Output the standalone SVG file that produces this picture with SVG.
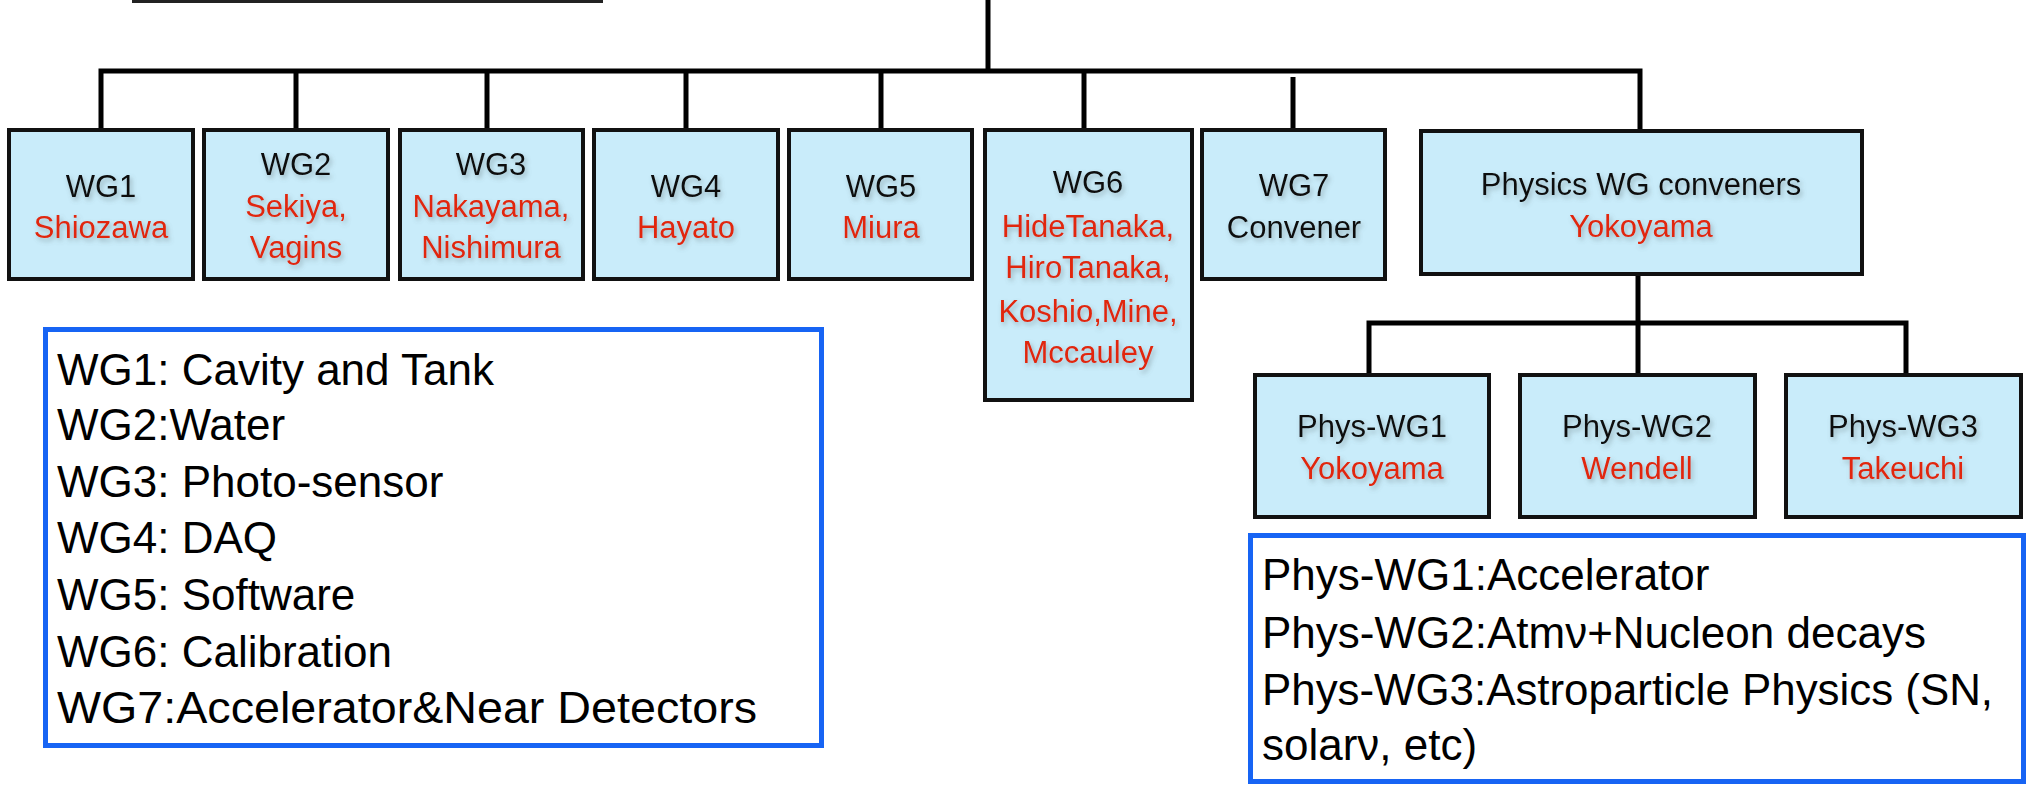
<svg xmlns="http://www.w3.org/2000/svg" width="2031" height="786" viewBox="0 0 2031 786">
<defs>
<filter id="ts" x="-10%" y="-30%" width="120%" height="160%">
<feDropShadow dx="2" dy="3" stdDeviation="2.5" flood-color="#5a6a70" flood-opacity="0.45"/>
</filter>
<style>
.box{fill:#c9ecfa;stroke:#111;stroke-width:4}
.leg{fill:#fff;stroke:#1764f4;stroke-width:5}
.ln{stroke:#000;stroke-width:5;fill:none}
.t{font-family:"Liberation Sans",Arial,sans-serif;font-size:31px;text-anchor:middle;filter:url(#ts)}
.k{fill:#111}
.r{fill:#e1280c}
.lt{font-family:"Liberation Sans",Arial,sans-serif;font-size:44px;fill:#000}
</style>
</defs>
<rect width="2031" height="786" fill="#fff"/>
<line x1="132" y1="1.5" x2="603" y2="1.5" stroke="#222" stroke-width="3"/>

<g id="connectors">
<line class="ln" x1="988" y1="0" x2="988" y2="71"/>
<polyline class="ln" points="101,129 101,71 1640,71 1640,130"/>
<line class="ln" x1="296" y1="71" x2="296" y2="129"/>
<line class="ln" x1="487" y1="71" x2="487" y2="129"/>
<line class="ln" x1="686" y1="71" x2="686" y2="129"/>
<line class="ln" x1="881" y1="71" x2="881" y2="129"/>
<line class="ln" x1="1084" y1="71" x2="1084" y2="129"/>
<line class="ln" x1="1293" y1="77" x2="1293" y2="131"/>
<line class="ln" x1="1638" y1="275" x2="1638" y2="374"/>
<polyline class="ln" points="1369,375 1369,323 1906,323 1906,375"/>
</g>

<g id="wg1"><rect class="box" x="9" y="130" width="184" height="149"/>
<text class="t k" x="101" y="197">WG1</text><text class="t r" x="101" y="238">Shiozawa</text></g>
<g id="wg2"><rect class="box" x="204" y="130" width="184" height="149"/>
<text class="t k" x="296" y="175">WG2</text><text class="t r" x="296" y="217">Sekiya,</text><text class="t r" x="296" y="258">Vagins</text></g>
<g id="wg3"><rect class="box" x="400" y="130" width="183" height="149"/>
<text class="t k" x="491" y="175">WG3</text><text class="t r" x="491" y="217">Nakayama,</text><text class="t r" x="491" y="258">Nishimura</text></g>
<g id="wg4"><rect class="box" x="594" y="130" width="184" height="149"/>
<text class="t k" x="686" y="197">WG4</text><text class="t r" x="686" y="238">Hayato</text></g>
<g id="wg5"><rect class="box" x="789" y="130" width="183" height="149"/>
<text class="t k" x="881" y="197">WG5</text><text class="t r" x="881" y="238">Miura</text></g>
<g id="wg6"><rect class="box" x="985" y="130" width="207" height="270"/>
<text class="t k" x="1088" y="193">WG6</text><text class="t r" x="1088" y="237">HideTanaka,</text><text class="t r" x="1088" y="278">HiroTanaka,</text><text class="t r" x="1088" y="322">Koshio,Mine,</text><text class="t r" x="1088" y="363">Mccauley</text></g>
<g id="wg7"><rect class="box" x="1202" y="130" width="183" height="149"/>
<text class="t k" x="1294" y="196">WG7</text><text class="t k" x="1294" y="238">Convener</text></g>
<g id="physconv"><rect class="box" x="1421" y="131" width="441" height="143"/>
<text class="t k" x="1641" y="195">Physics WG conveners</text><text class="t r" x="1641" y="237">Yokoyama</text></g>
<g id="physwg1"><rect class="box" x="1255" y="375" width="234" height="142"/>
<text class="t k" x="1372" y="437">Phys-WG1</text><text class="t r" x="1372" y="479">Yokoyama</text></g>
<g id="physwg2"><rect class="box" x="1520" y="375" width="235" height="142"/>
<text class="t k" x="1637" y="437">Phys-WG2</text><text class="t r" x="1637" y="479">Wendell</text></g>
<g id="physwg3"><rect class="box" x="1786" y="375" width="235" height="142"/>
<text class="t k" x="1903" y="437">Phys-WG3</text><text class="t r" x="1903" y="479">Takeuchi</text></g>

<g id="legend-wg"><rect class="leg" x="45.5" y="329.5" width="776" height="416"/>
<text class="lt" x="57" y="385">WG1: Cavity and Tank</text>
<text class="lt" x="57" y="440">WG2:Water</text>
<text class="lt" x="57" y="497">WG3: Photo-sensor</text>
<text class="lt" x="57" y="553">WG4: DAQ</text>
<text class="lt" x="57" y="610">WG5: Software</text>
<text class="lt" x="57" y="667">WG6: Calibration</text>
<text class="lt" x="57" y="723" textLength="700" lengthAdjust="spacingAndGlyphs">WG7:Accelerator&amp;Near Detectors</text>
</g>
<g id="legend-phys"><rect class="leg" x="1250.5" y="535.5" width="773" height="246"/>
<text class="lt" x="1262" y="590">Phys-WG1:Accelerator</text>
<text class="lt" x="1262" y="648">Phys-WG2:Atmν+Nucleon decays</text>
<text class="lt" x="1262" y="705" textLength="731" lengthAdjust="spacingAndGlyphs">Phys-WG3:Astroparticle Physics (SN,</text>
<text class="lt" x="1262" y="760">solarν, etc)</text>
</g>
</svg>
